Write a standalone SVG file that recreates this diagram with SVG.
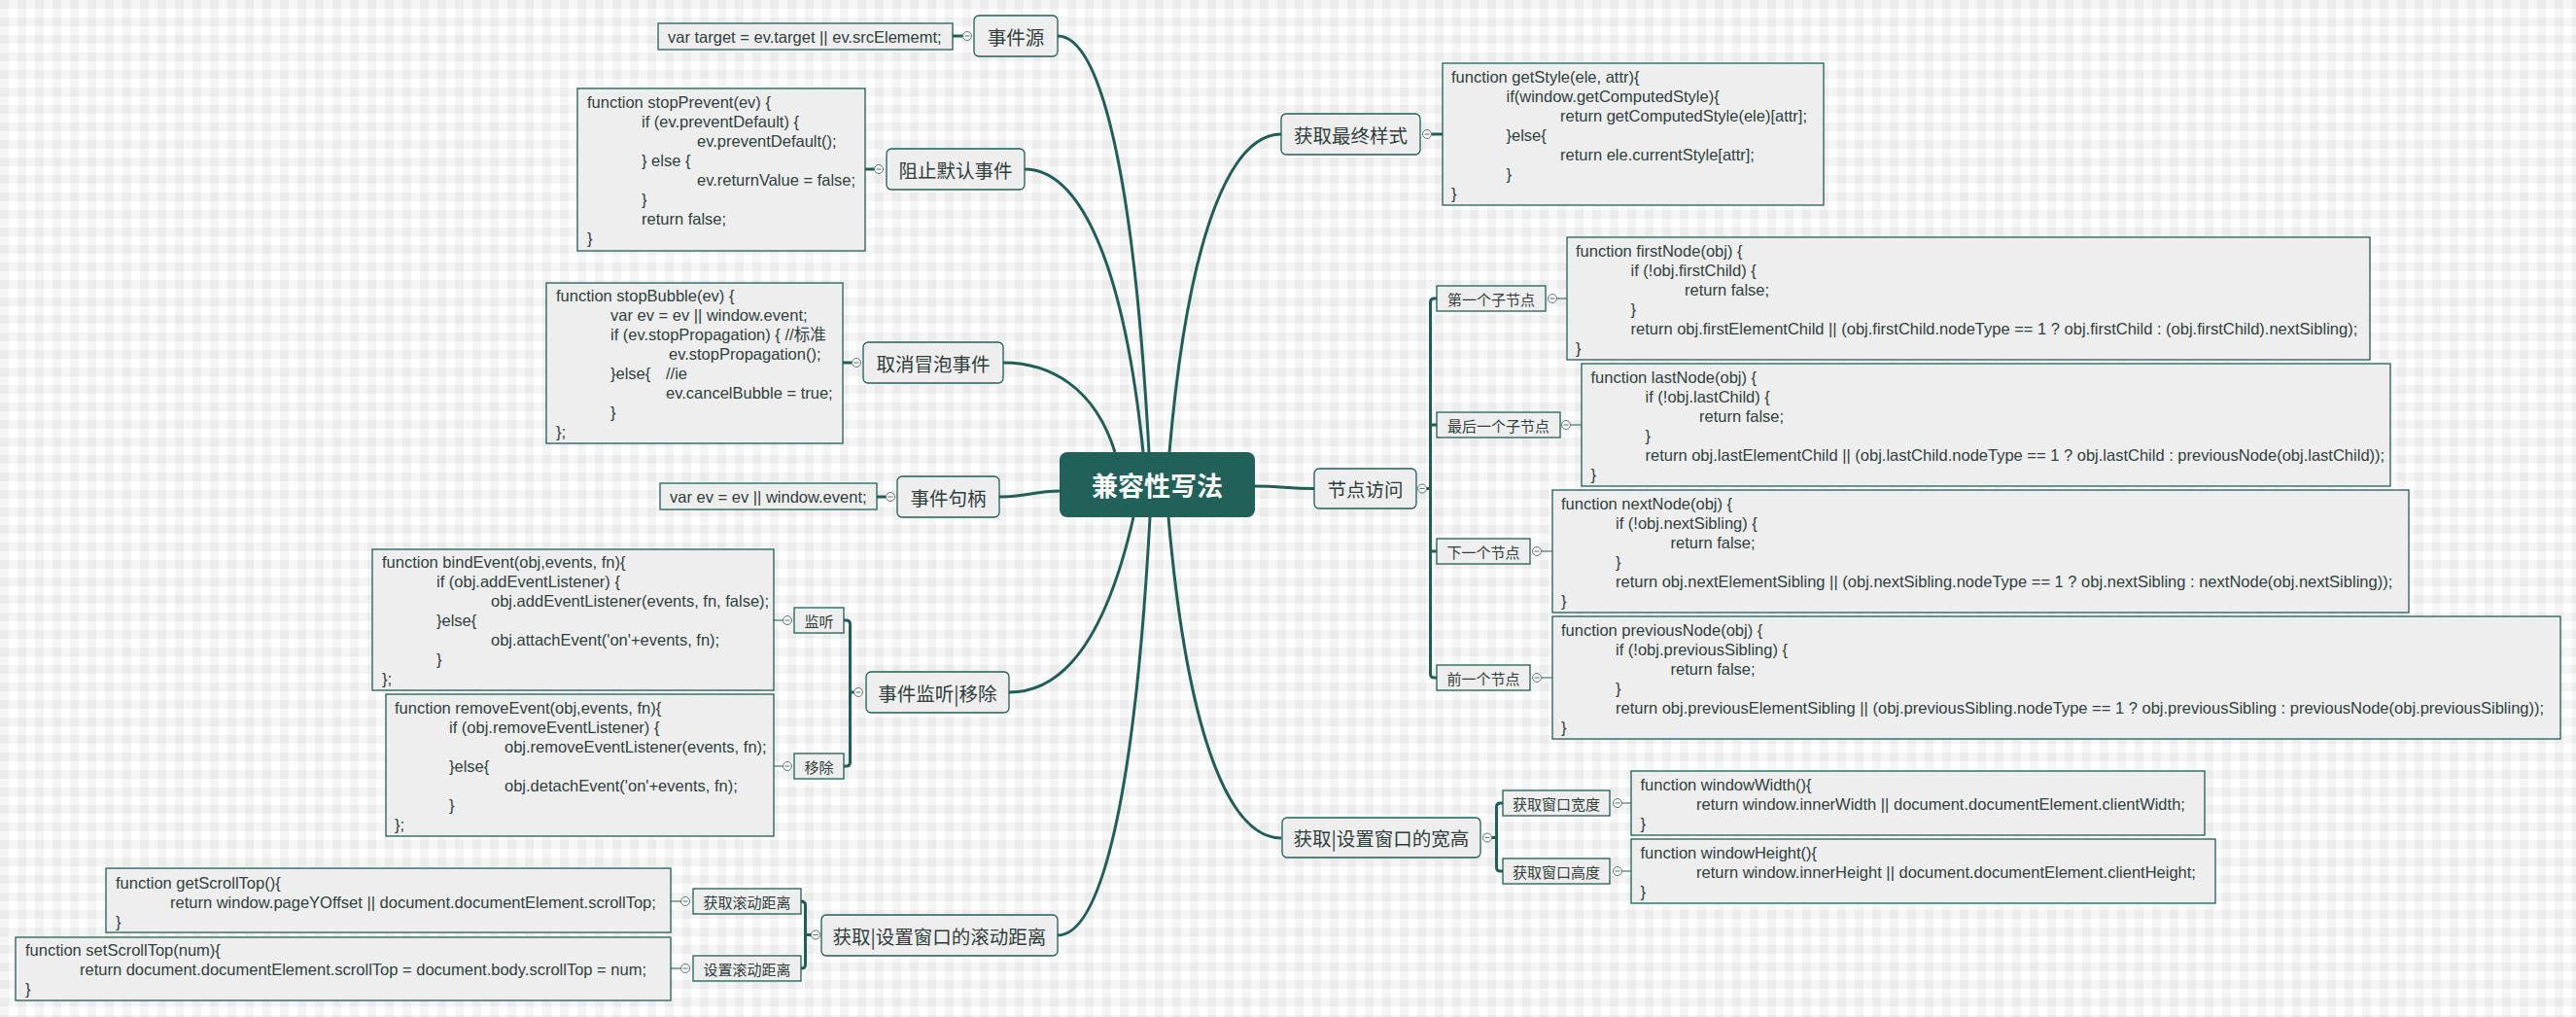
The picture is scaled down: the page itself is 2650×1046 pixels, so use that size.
<svg xmlns="http://www.w3.org/2000/svg" width="2650" height="1046" viewBox="0 0 2650 1046">
<defs>
<pattern id="bg" width="18" height="18" patternUnits="userSpaceOnUse">
<rect width="18" height="18" fill="#ffffff"/>
<rect width="18" height="9" fill="#000" fill-opacity="0.04"/>
<rect width="9" height="18" fill="#000" fill-opacity="0.04"/>
</pattern>
<g id="tog"><circle r="4.5" fill="#f7f7f7" stroke="#5d7774" stroke-width="1"/><line x1="-2.5" x2="2.5" y1="0" y2="0" stroke="#5d7774" stroke-width="1"/></g>
<style>
.node rect{fill:#eeeeee;stroke:#1f5f58;stroke-width:1.3}
.node text{font-family:"Noto Sans CJK SC","Liberation Sans",sans-serif;font-size:19.5px;fill:#2f3d3b;text-anchor:middle;dominant-baseline:central}
.sub rect{fill:#eeeeee;stroke:#1f5f58;stroke-width:1.3}
.sub text{font-family:"Noto Sans CJK SC","Liberation Sans",sans-serif;font-size:15px;fill:#2f3d3b;text-anchor:middle;dominant-baseline:central}
.code rect{fill:#eeeeee;stroke:#1f5f58;stroke-width:1.3}
.code text{font-family:"Liberation Sans","Noto Sans CJK SC",sans-serif;font-size:16.5px;fill:#2f403e;dominant-baseline:central}
#center rect{fill:#22615a}
#center text{font-family:"Noto Sans CJK SC","Liberation Sans",sans-serif;font-size:27px;font-weight:bold;fill:#ffffff;text-anchor:middle;dominant-baseline:central}
#connectors path{fill:none;stroke:#1f5f58;stroke-width:3}
#connectors path.thin{stroke-width:1.2}
</style>
</defs>
<rect width="2650" height="1046" fill="url(#bg)"/>

<g id="connectors">
<path d="M1088,37 C1127.5,37 1165,152.6 1182,465"/>
<path d="M1054,174 C1105,174 1154,252.6 1176,465"/>
<path d="M1032,373 C1080,373 1126,398 1147,465"/>
<path d="M1318,138 C1269.7,138 1223.7,226.3 1203,465"/>
<path d="M1038,712 C1075,712 1130,690 1166,532"/>
<path d="M1088,962 C1128,962 1166,846 1183,532"/>
<path d="M1318,862 C1269,862 1223,773 1202,532"/>
<path d="M1028,511 C1058,511 1062,505 1091,505"/>
<path d="M1290,500 C1320,500 1322,502.5 1352,502.5"/>
<path d="M980,37 H990.5"/>
<path d="M890,174 H899.5"/>
<path d="M867,373 H876.5"/>
<path d="M902,511 H911.5"/>
<path d="M1472.5,138 H1484"/>
<path d="M868,638 H870.5 Q874.5,638 874.5,642 V784 Q874.5,788 870.5,788 H868 M874.5,712 H878.5"/>
<path d="M824,927 Q828.5,927 828.5,931 V992 Q828.5,996 824,996 M828.5,961.5 H834.5"/>
<path d="M1478,307 H1475.5 Q1471.5,307 1471.5,311 V693 Q1471.5,697 1475.5,697 H1478 M1471.5,437 H1478 M1471.5,567 H1478 M1467.5,502.5 H1471.5"/>
<path d="M1546,826 H1543.5 Q1539.5,826 1539.5,830 V892 Q1539.5,896 1543.5,896 H1546 M1534.5,861.5 H1539.5"/>
<path class="thin" d="M796,638 H805.5 M796,788 H805.5"/>
<path class="thin" d="M690,927 H700.5 M690,996 H700.5"/>
<path class="thin" d="M1601.5,307 H1612 M1615.5,437 H1627 M1585.5,567 H1597 M1585.5,697 H1597"/>
<path class="thin" d="M1668.5,826 H1678 M1668.5,896 H1678"/>
<use href="#tog" x="995" y="37"/>
<use href="#tog" x="904" y="174"/>
<use href="#tog" x="881" y="373"/>
<use href="#tog" x="916" y="511"/>
<use href="#tog" x="883" y="712"/>
<use href="#tog" x="839" y="961.5"/>
<use href="#tog" x="810" y="638"/>
<use href="#tog" x="810" y="788"/>
<use href="#tog" x="705" y="927"/>
<use href="#tog" x="705" y="996"/>
<use href="#tog" x="1468" y="138"/>
<use href="#tog" x="1463" y="502.5"/>
<use href="#tog" x="1597" y="307"/>
<use href="#tog" x="1611" y="437"/>
<use href="#tog" x="1581" y="567"/>
<use href="#tog" x="1581" y="697"/>
<use href="#tog" x="1530" y="861.5"/>
<use href="#tog" x="1664" y="826"/>
<use href="#tog" x="1664" y="896"/>
</g>

<g id="center"><rect x="1090" y="465" width="201" height="67" rx="8"/><text x="1190.5" y="498.5">兼容性写法</text></g>

<g id="n-source" class="node"><rect x="1002" y="16" width="86" height="42" rx="5"/><text x="1045" y="37">事件源</text></g>
<g id="n-prevent" class="node"><rect x="912" y="153" width="142" height="42" rx="5"/><text x="983" y="174">阻止默认事件</text></g>
<g id="n-bubble" class="node"><rect x="888" y="352" width="144" height="42" rx="5"/><text x="960" y="373">取消冒泡事件</text></g>
<g id="n-handle" class="node"><rect x="923" y="490" width="105" height="42" rx="5"/><text x="975.5" y="511">事件句柄</text></g>
<g id="n-listen" class="node"><rect x="891" y="691" width="147" height="42" rx="5"/><text x="964.5" y="712">事件监听|移除</text></g>
<g id="n-scroll" class="node"><rect x="845" y="941" width="243" height="42" rx="5"/><text x="966.5" y="962">获取|设置窗口的滚动距离</text></g>
<g id="n-style" class="node"><rect x="1318" y="117" width="143" height="42" rx="5"/><text x="1389.5" y="138">获取最终样式</text></g>
<g id="n-nodes" class="node"><rect x="1352" y="482" width="105" height="41" rx="5"/><text x="1404.5" y="502.5">节点访问</text></g>
<g id="n-size" class="node"><rect x="1319" y="841" width="204" height="41" rx="5"/><text x="1421" y="861.5">获取|设置窗口的宽高</text></g>

<g id="s-listen" class="sub"><rect x="817" y="625" width="51" height="26"/><text x="842.5" y="638">监听</text></g>
<g id="s-remove" class="sub"><rect x="817" y="775" width="51" height="26"/><text x="842.5" y="788">移除</text></g>
<g id="s-getscroll" class="sub"><rect x="713" y="914" width="111" height="26"/><text x="768.5" y="927">获取滚动距离</text></g>
<g id="s-setscroll" class="sub"><rect x="713" y="983" width="111" height="26"/><text x="768.5" y="996">设置滚动距离</text></g>
<g id="s-first" class="sub"><rect x="1478" y="294" width="112" height="26"/><text x="1534" y="307">第一个子节点</text></g>
<g id="s-last" class="sub"><rect x="1478" y="424" width="127" height="26"/><text x="1541.5" y="437">最后一个子节点</text></g>
<g id="s-next" class="sub"><rect x="1478" y="554" width="96" height="26"/><text x="1526" y="567">下一个节点</text></g>
<g id="s-prev" class="sub"><rect x="1478" y="684" width="96" height="26"/><text x="1526" y="697">前一个节点</text></g>
<g id="s-width" class="sub"><rect x="1546" y="813" width="110" height="26"/><text x="1601" y="826">获取窗口宽度</text></g>
<g id="s-height" class="sub"><rect x="1546" y="883" width="110" height="26"/><text x="1601" y="896">获取窗口高度</text></g>

<g id="c-source" class="code"><rect x="677" y="24" width="303" height="27"/><text x="687" y="37.5">var target = ev.target || ev.srcElememt;</text></g>

<g id="c-prevent" class="code"><rect x="594" y="91" width="296" height="167"/>
<text><tspan x="604" y="105">function stopPrevent(ev) {</tspan><tspan x="660" y="125">if (ev.preventDefault) {</tspan><tspan x="717" y="145">ev.preventDefault();</tspan><tspan x="660" y="165">} else {</tspan><tspan x="717" y="185">ev.returnValue = false;</tspan><tspan x="660" y="205">}</tspan><tspan x="660" y="225">return false;</tspan><tspan x="604" y="245">}</tspan></text></g>

<g id="c-bubble" class="code"><rect x="562" y="291" width="305" height="165"/>
<text><tspan x="572" y="304">function stopBubble(ev) {</tspan><tspan x="628" y="324">var ev = ev || window.event;</tspan><tspan x="628" y="344">if (ev.stopPropagation) { //标准</tspan><tspan x="688" y="364">ev.stopPropagation();</tspan><tspan x="628" y="384">}else{</tspan><tspan x="685" y="384">//ie</tspan><tspan x="685" y="404">ev.cancelBubble = true;</tspan><tspan x="628" y="424">}</tspan><tspan x="572" y="444">};</tspan></text></g>

<g id="c-handle" class="code"><rect x="679" y="497" width="223" height="27"/><text x="689" y="510.5">var ev = ev || window.event;</text></g>

<g id="c-bind" class="code"><rect x="383" y="565" width="413" height="145"/>
<text><tspan x="393" y="578">function bindEvent(obj,events, fn){</tspan><tspan x="449" y="598">if (obj.addEventListener) {</tspan><tspan x="505" y="618">obj.addEventListener(events, fn, false);</tspan><tspan x="449" y="638">}else{</tspan><tspan x="505" y="658">obj.attachEvent('on'+events, fn);</tspan><tspan x="449" y="678">}</tspan><tspan x="393" y="698">};</tspan></text></g>

<g id="c-unbind" class="code"><rect x="397" y="714" width="399" height="146"/>
<text><tspan x="406" y="728">function removeEvent(obj,events, fn){</tspan><tspan x="462" y="748">if (obj.removeEventListener) {</tspan><tspan x="519" y="768">obj.removeEventListener(events, fn);</tspan><tspan x="462" y="788">}else{</tspan><tspan x="519" y="808">obj.detachEvent('on'+events, fn);</tspan><tspan x="462" y="828">}</tspan><tspan x="406" y="848">};</tspan></text></g>

<g id="c-getscroll" class="code"><rect x="109" y="893" width="581" height="66"/>
<text><tspan x="119" y="908">function getScrollTop(){</tspan><tspan x="175" y="928">return window.pageYOffset || document.documentElement.scrollTop;</tspan><tspan x="119" y="948">}</tspan></text></g>

<g id="c-setscroll" class="code"><rect x="16" y="964" width="674" height="65"/>
<text><tspan x="26" y="977">function setScrollTop(num){</tspan><tspan x="82" y="997">return document.documentElement.scrollTop = document.body.scrollTop = num;</tspan><tspan x="26" y="1017">}</tspan></text></g>

<g id="c-style" class="code"><rect x="1484" y="65" width="392" height="146"/>
<text><tspan x="1493" y="79">function getStyle(ele, attr){</tspan><tspan x="1549.5" y="99">if(window.getComputedStyle){</tspan><tspan x="1605" y="119">return getComputedStyle(ele)[attr];</tspan><tspan x="1549.5" y="139">}else{</tspan><tspan x="1605" y="159">return ele.currentStyle[attr];</tspan><tspan x="1549.5" y="179">}</tspan><tspan x="1493" y="199">}</tspan></text></g>

<g id="c-first" class="code"><rect x="1612" y="244" width="826" height="126"/>
<text><tspan x="1621" y="258">function firstNode(obj) {</tspan><tspan x="1677.5" y="278">if (!obj.firstChild) {</tspan><tspan x="1733" y="298">return false;</tspan><tspan x="1677.5" y="318">}</tspan><tspan x="1677.5" y="338">return obj.firstElementChild || (obj.firstChild.nodeType == 1 ? obj.firstChild : (obj.firstChild).nextSibling);</tspan><tspan x="1621" y="358">}</tspan></text></g>

<g id="c-last" class="code"><rect x="1627" y="374" width="832" height="126"/>
<text><tspan x="1636.5" y="388">function lastNode(obj) {</tspan><tspan x="1692.5" y="408">if (!obj.lastChild) {</tspan><tspan x="1748" y="428">return false;</tspan><tspan x="1692.5" y="448">}</tspan><tspan x="1692.5" y="468">return obj.lastElementChild || (obj.lastChild.nodeType == 1 ? obj.lastChild : previousNode(obj.lastChild));</tspan><tspan x="1636.5" y="488">}</tspan></text></g>

<g id="c-next" class="code"><rect x="1597" y="504" width="881" height="126"/>
<text><tspan x="1606" y="518">function nextNode(obj) {</tspan><tspan x="1662" y="538">if (!obj.nextSibling) {</tspan><tspan x="1718.5" y="558">return false;</tspan><tspan x="1662" y="578">}</tspan><tspan x="1662" y="598">return obj.nextElementSibling || (obj.nextSibling.nodeType == 1 ? obj.nextSibling : nextNode(obj.nextSibling));</tspan><tspan x="1606" y="618">}</tspan></text></g>

<g id="c-prev" class="code"><rect x="1597" y="634" width="1037" height="126"/>
<text><tspan x="1606" y="648">function previousNode(obj) {</tspan><tspan x="1662" y="668">if (!obj.previousSibling) {</tspan><tspan x="1718.5" y="688">return false;</tspan><tspan x="1662" y="708">}</tspan><tspan x="1662" y="728">return obj.previousElementSibling || (obj.previousSibling.nodeType == 1 ? obj.previousSibling : previousNode(obj.previousSibling));</tspan><tspan x="1606" y="748">}</tspan></text></g>

<g id="c-width" class="code"><rect x="1678" y="793" width="590" height="66"/>
<text><tspan x="1687.5" y="807">function windowWidth(){</tspan><tspan x="1745" y="827">return window.innerWidth || document.documentElement.clientWidth;</tspan><tspan x="1687.5" y="847">}</tspan></text></g>

<g id="c-height" class="code"><rect x="1678" y="863" width="601" height="66"/>
<text><tspan x="1687.5" y="877">function windowHeight(){</tspan><tspan x="1745" y="897">return window.innerHeight || document.documentElement.clientHeight;</tspan><tspan x="1687.5" y="917">}</tspan></text></g>
</svg>
